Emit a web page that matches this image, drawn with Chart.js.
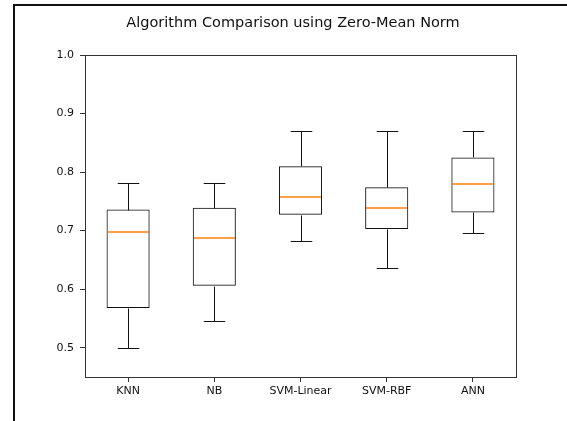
<!DOCTYPE html>
<html>
<head>
<meta charset="utf-8">
<script src="https://cdn.jsdelivr.net/npm/chart.js@4.4.0/dist/chart.umd.min.js"></script>
<style>
    html, body { margin: 0; padding: 0; background: #fff; }
    #frame { position: absolute; left: 13px; top: 4px; width: 570px; height: 430px;
             border-left: 2px solid #111; border-top: 2px solid #111; }
    #boxChart { position: absolute; left: 0; top: 0; }
</style>
</head>
<body>
<div id="frame"></div>
<canvas id="boxChart" width="567" height="421"></canvas>
<script>
    // data
    const algorithms = ['KNN', 'NB', 'SVM-Linear', 'SVM-RBF', 'ANN'];
    const whiskerLow = [0.500, 0.546, 0.683, 0.636, 0.696];
    const quartile1 = [0.568, 0.606, 0.727, 0.703, 0.731];
    const medians = [0.697, 0.688, 0.757, 0.739, 0.779];
    const quartile3 = [0.736, 0.739, 0.810, 0.774, 0.825];
    const whiskerHigh = [0.782, 0.782, 0.870, 0.870, 0.870];
    const yTicks = [0.5, 0.6, 0.7, 0.8, 0.9, 1.0];
    const chartTitle = 'Algorithm Comparison using Zero-Mean Norm';

    const crisp = function (v) { return Math.round(v) + 0.5; };

    // whiskers, caps, medians, axes frame and title
    const boxPlotExtras = {
        id: 'boxPlotExtras',
        afterDatasetsDraw: function (chart) {
            const ctx = chart.ctx;
            const y = chart.scales.y;
            const area = chart.chartArea;
            const meta = chart.getDatasetMeta(0);
            ctx.save();
            meta.data.forEach(function (bar, i) {
                const x = crisp(bar.x);
                const half = bar.width / 2;
                const cap = bar.width / 4;
                const yq1 = crisp(y.getPixelForValue(quartile1[i]));
                const yq3 = crisp(y.getPixelForValue(quartile3[i]));
                const ylo = crisp(y.getPixelForValue(whiskerLow[i]));
                const yhi = crisp(y.getPixelForValue(whiskerHigh[i]));
                const ymed = Math.round(y.getPixelForValue(medians[i]));

                ctx.lineWidth = 1;
                ctx.strokeStyle = '#111';
                ctx.beginPath();
                ctx.moveTo(x, yq3); ctx.lineTo(x, yhi);
                ctx.moveTo(x - cap, yhi); ctx.lineTo(x + cap, yhi);
                ctx.moveTo(x, yq1); ctx.lineTo(x, ylo);
                ctx.moveTo(x - cap, ylo); ctx.lineTo(x + cap, ylo);
                ctx.stroke();

                ctx.lineWidth = 1.6;
                ctx.strokeStyle = '#ff7f0e';
                ctx.beginPath();
                ctx.moveTo(Math.round(bar.x - half) + 1, ymed);
                ctx.lineTo(Math.round(bar.x + half) - 1, ymed);
                ctx.stroke();
            });

            ctx.lineWidth = 1;
            ctx.strokeStyle = '#333';
            ctx.strokeRect(crisp(area.left), crisp(area.top),
                Math.round(area.right) - Math.round(area.left),
                Math.round(area.bottom) - Math.round(area.top));

            ctx.fillStyle = '#111';
            ctx.font = '14.5px "DejaVu Sans"';
            ctx.textAlign = 'center';
            ctx.textBaseline = 'alphabetic';
            ctx.fillText(chartTitle, 293, 27);
            ctx.restore();
        }
    };

    new Chart(document.getElementById('boxChart'), {
        type: 'bar',
        data: {
            labels: algorithms,
            datasets: [{
                label: 'IQR',
                data: quartile1.map(function (q, i) { return [q, quartile3[i]]; }),
                backgroundColor: 'rgba(255,255,255,0)',
                borderColor: '#111',
                borderWidth: 1,
                borderSkipped: false,
                barPercentage: 0.5,
                categoryPercentage: 1
            }]
        },
        options: {
            responsive: false,
            animation: false,
            layout: { padding: { left: 0, right: 51, top: 55, bottom: 0 } },
            plugins: {
                legend: { display: false },
                tooltip: { enabled: false },
                title: { display: false }
            },
            scales: {
                x: {
                    offset: true,
                    border: { display: false },
                    grid: { offset: false, drawOnChartArea: false, tickLength: 5, color: '#333' },
                    ticks: { color: '#111', padding: 3, font: { family: 'DejaVu Sans', size: 11 } },
                    afterFit: function (scale) { scale.height = 44; }
                },
                y: {
                    min: 0.45,
                    max: 1.0,
                    border: { display: false },
                    grid: { drawOnChartArea: false, tickLength: 5, color: '#333' },
                    ticks: {
                        color: '#111',
                        padding: 6,
                        font: { family: 'DejaVu Sans', size: 11 },
                        callback: function (v) { return Number(v).toFixed(1); }
                    },
                    afterBuildTicks: function (scale) {
                        scale.ticks = yTicks.map(function (v) { return { value: v }; });
                    },
                    afterFit: function (scale) { scale.width = 85; }
                }
            }
        },
        plugins: [boxPlotExtras]
    });
</script>
</body>
</html>
